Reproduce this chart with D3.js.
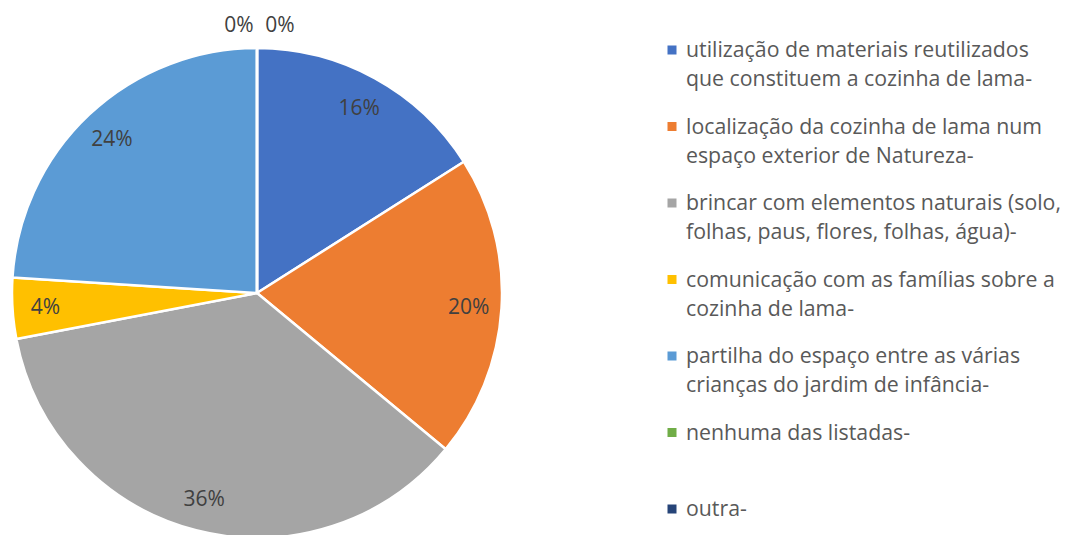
<!DOCTYPE html>
<html>
<head>
<meta charset="utf-8">
<script src="https://cdn.jsdelivr.net/npm/d3@7"></script>
<style>
  body { margin: 0; background: #fff; }
  text { font-family: "Open Sans", sans-serif; }
</style>
</head>
<body>
<div class="figure"></div>
<script>
// categories (legend lines already split the way the chart wraps them)
var categories = [
    ["utilização de materiais reutilizados", "que constituem a cozinha de lama-"],
    ["localização da cozinha de lama num", "espaço exterior de Natureza-"],
    ["brincar com elementos naturais (solo,", "folhas, paus, flores, folhas, água)-"],
    ["comunicação com as famílias sobre a", "cozinha de lama-"],
    ["partilha do espaço entre as várias", "crianças do jardim de infância-"],
    ["nenhuma das listadas-"],
    ["outra-"]
]
var values = [16, 20, 36, 4, 24, 0, 0]
var colors = ["#4472C4", "#ED7D31", "#A5A5A5", "#FFC000", "#5B9BD5", "#70AD47", "#264478"]

var dim = { w: 1066, h: 535 }
var pieConfig = { cx: 257, cy: 293, r: 245, labelR: 212, zeroR: 268 }
var legendConfig = { x: 672, y: 50, step: 76.5, lineH: 29, box: 9, textX: 686, fontSize: 21.3 }

var data = values.map(function(v, i) {
    return { name: categories[i], value: v, color: colors[i], idx: i }
})

var svg = d3.select("div.figure")
    .append("svg")
    .attr("width", dim.w)
    .attr("height", dim.h)

var pie = d3.pie()
    .sort(null)
    .value(function(d) { return d.value })

var arcs = pie(data)

var arc = d3.arc()
    .innerRadius(0)
    .outerRadius(pieConfig.r)

var labelArc = d3.arc()
    .innerRadius(pieConfig.labelR)
    .outerRadius(pieConfig.labelR)

var zeroArc = d3.arc()
    .innerRadius(pieConfig.zeroR)
    .outerRadius(pieConfig.zeroR)

var g = svg.append("g")
    .attr("transform", "translate(" + pieConfig.cx + "," + pieConfig.cy + ")")

g.selectAll("path")
    .data(arcs)
    .enter()
    .append("path")
    .attr("d", arc)
    .attr("fill", function(d) { return d.data.color })
    .attr("stroke", "#fff")
    .attr("stroke-width", 2.5)
    .attr("stroke-linejoin", "round")

// data labels; the zero slices get pushed outside, side by side
var zeroCount = 0
g.selectAll("text.lbl")
    .data(arcs)
    .enter()
    .append("text")
    .attr("class", "lbl")
    .attr("transform", function(d) {
        var p
        if (d.data.value === 0) {
            p = zeroArc.centroid(d)
            p[0] += (zeroCount++ === 0 ? -18 : 23)
        } else {
            p = labelArc.centroid(d)
        }
        return "translate(" + p[0] + "," + p[1] + ")"
    })
    .attr("text-anchor", "middle")
    .attr("dy", "0.35em")
    .style("font-size", "21px")
    .style("fill", "#404040")
    .text(function(d) { return d.data.value + "%" })

// legend
var legend = svg.append("g")
    .selectAll("g")
    .data(data)
    .enter()
    .append("g")
    .attr("transform", function(d, i) {
        return "translate(0," + (legendConfig.y + i * legendConfig.step) + ")"
    })

legend.append("rect")
    .attr("x", legendConfig.x - legendConfig.box / 2)
    .attr("y", -legendConfig.box / 2)
    .attr("width", legendConfig.box)
    .attr("height", legendConfig.box)
    .attr("fill", function(d) { return d.color })

legend.each(function(d) {
    var t = d3.select(this)
    d.name.forEach(function(line, j) {
        t.append("text")
            .attr("x", legendConfig.textX)
            .attr("y", j * legendConfig.lineH)
            .attr("dy", "0.35em")
            .style("font-size", legendConfig.fontSize + "px")
            .style("fill", "#595959")
            .text(line)
    })
})
</script>
</body>
</html>
